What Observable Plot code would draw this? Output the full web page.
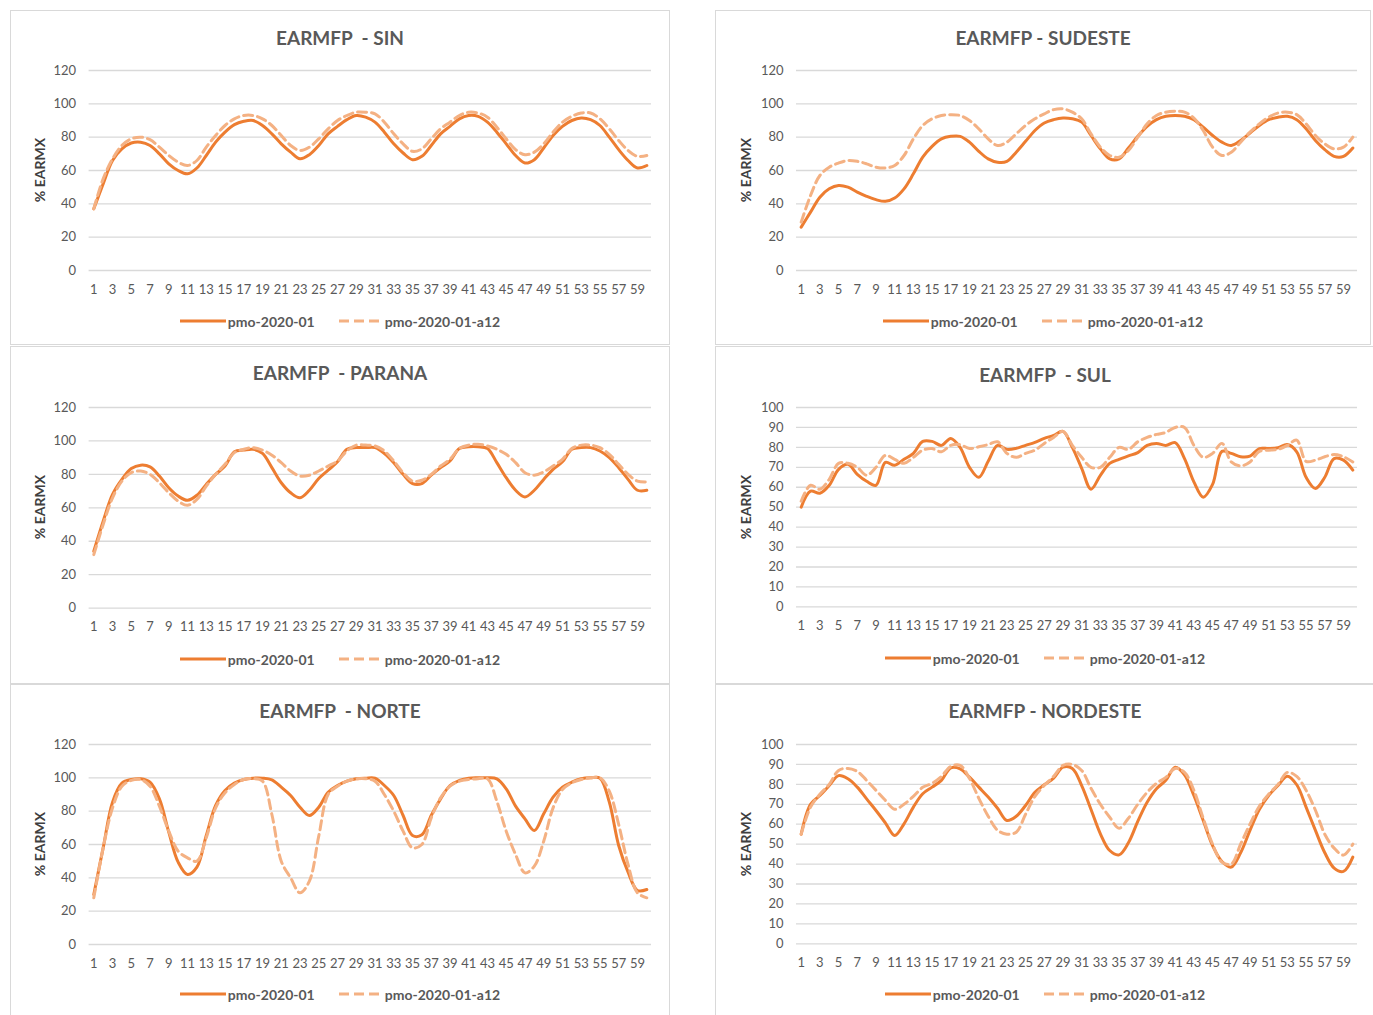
<!DOCTYPE html>
<html>
<head>
<meta charset="utf-8">
<script src="https://cdn.jsdelivr.net/npm/d3@7"></script>
<script src="https://cdn.jsdelivr.net/npm/@observablehq/plot@0.6"></script>
<style>
  html, body { margin: 0; padding: 0; background: #fff; }
  body { width: 1373px; height: 1015px; position: relative; overflow: hidden; font-family: Lato, "Open Sans", sans-serif; }
  .box { position: absolute; border: 1px solid #d9d9d9; box-sizing: border-box; }
  .title { position: absolute; text-align: center; white-space: pre; color: #595959; font-size: 19px; font-weight: 700; line-height: 24px; }
  .ylab { position: absolute; width: 120px; text-align: center; transform: rotate(-90deg); color: #404040; font-weight: 700; font-size: 14px; line-height: 16px; }
  .legend { position: absolute; display: flex; justify-content: center; align-items: center; color: #595959; font-weight: 700; font-size: 14px; height: 20px; }
  .legend .item { display: flex; align-items: center; margin: 0 12px; }
  .legend svg { margin-right: 2px; }
  .plot { position: absolute; }
</style>
</head>
<body>
<script>
// ---- categories / tick labels ----
const weeks = [1,2,3,4,5,6,7,8,9,10,11,12,13,14,15,16,17,18,19,20,21,22,23,24,25,26,27,28,29,30,
  31,32,33,34,35,36,37,38,39,40,41,42,43,44,45,46,47,48,49,50,51,52,53,54,55,56,57,58,59,60];
const xTickLabels = [1,3,5,7,9,11,13,15,17,19,21,23,25,27,29,31,33,35,37,39,41,43,45,47,49,51,53,55,57,59];
const yTicks120 = [0,20,40,60,80,100,120];
const yTicks100 = [0,10,20,30,40,50,60,70,80,90,100];
const seriesNames = ["pmo-2020-01", "pmo-2020-01-a12"];

// ---- series values (% EARMX) ----
const SIN_pmo = [37,52,66,73,76.5,77,75,70,64,60, 58,61.5,69,77,83,87.5,89.5,90,87,82,
  76,71,67,69.5,75,82,86.5,90.5,93,92, 89,83,76,70.5,66.5,68.5,75,82,86.5,91,
  93,92.5,89,83,76,69,64.5,66.5,73.5,81, 86.5,90,91.5,90.5,87,80,72.5,66,61.5,63];
const SIN_a12 = [37,55,67,75,79,80,78.5,74,69,65, 63,66,74,81,87,91,93,93,91,87,
  81,75,72,74,79,85,90,93,95,95, 94,89,82,76,71.5,73,79,85,89,93,
  95,94.5,92,86,79,72.5,69.5,71,76,83, 89,92.5,94.5,94.5,91,85,78,72,68.5,69];

const SUDESTE_pmo = [26,35,44,49,51,50,47,44.5,42.5,41.5, 43.5,49,58,68,74.5,79,80.5,80.5,77,71.5,
  67,65,65.5,71,77.5,84,88.5,90.5,91.5,91, 89,81,73,67,67,73.5,80.5,86.5,90.5,92.5,
  93,92.5,90.5,86,81,77,75,78,82.5,87, 90.5,92,92.5,90.5,85,78,72.5,68.5,68.5,73.5];
const SUDESTE_a12 = [29,45,57,62,64.5,66,65.5,64,62,61.5, 63,69,79,87,91,93,93.5,93,90,85,
  79,75,77,82,87,91,94,96.5,97,95, 91,82,74,69,68,72,80,88,93,95,
  95.5,95,91.5,84,74,69,71,77,83,88, 92,94.5,95,93.5,88,81,76,73,74,80];

const PARANA_pmo = [34,52,68,77,83.5,85.5,84.5,79,72,67, 64.5,67.5,74,80,85,93.5,94.5,95,92.5,84,
  75,69,66,70.5,77.5,82.5,87.5,95,96,96, 96,92.5,87,80,74.5,74.5,79.5,84,88,95.5,
  96.5,96.5,95.5,87,78,70.5,66.5,70.5,77,83, 87.5,95,96,96,94,90,84,77,70.5,70.5];
const PARANA_a12 = [32,50,66,76,81,82,80,75,69,64, 61.5,65,73,80,86,93,95,96,94.5,91.5,
  87,82,79,79.5,82,85,88,94,97.5,97.5, 97,94,88,81,76,76.5,80,85,89,95.5,
  97.5,98,97,95,92,87,81,79.5,81.5,85, 89,95.5,97.5,97.5,96,92,86,80,76,75.5];

const SUL_pmo = [50,58,57,61,69,71.5,66.5,63,61,72.5, 71,74,77,83,83,81,84.5,80,70,65,
  73,81,79,79.5,81,82.5,84.5,86,88,80, 69.5,59,66,72,74,75.7,77.4,81,82,81,
  82.4,74.4,62.7,55,61.4,78,77,75.3,75.6,79.4, 79.4,79.8,81.4,77.8,65,59.4,65,74.4,73.6,68.6];
const SUL_a12 = [53,61,59,64,72,72,70,66,70,76, 74,72,75,78.6,79.4,77.8,81,81.4,79.4,80.3,
  81.4,82.8,77,75,77,78.6,82,85,88,81, 75,70,70,75,80,79,82.8,85,86.5,87.5,
  90,90,81,75,77,82,72.7,70.7,72.7,78, 78.6,79,81,83.6,73,73.6,75.3,76.4,75.3,72.7];

const NORTE_pmo = [30,58,85.4,96.8,99,99.4,97.4,87.4,67.4,49.4, 42,46.4,65.4,83.4,92.4,96.8,99,99.8,99.8,98.8,
  94.4,89.4,82.4,77.4,82.4,91.4,95.4,98,99.4,99.8, 99.8,95.4,89.4,77.4,65.4,65.8,77.4,87.4,95.4,98.4,
  99.8,100,100,99.4,93.4,83,75.4,68.4,78.4,88.4, 94.4,97.4,99.4,100,99.8,85.4,59.4,43.4,32.4,33];
const NORTE_a12 = [28,58,82,95,98.5,99,95,83,68,56, 52,50,64,82,91,96,99,99.5,98,78,
  50,40,31,38,65,90,95,98,99.4,99.5, 98,90,80,68,58,60,76,88,95,98,
  99,99.5,99.5,86,68,54,43,47,62,82, 93,97,99,100,100,92,72,48,31,28];

const NORDESTE_pmo = [55,70,74.4,79.4,84.4,82.8,78.6,72.7,66.9,60.7, 54.3,60.2,68.6,75.3,78.6,82,88.3,87.8,83.6,78.6,
  73.6,68,61.9,64,69.4,76,79.8,83.1,88.6,88, 79.4,67.4,55.2,46.8,44.6,50.7,61.4,71,77.8,82,
  88.6,84.8,74.4,61.9,49.3,41.3,38.5,45.7,56.9,67.4, 74.4,79.4,84.1,79.8,68.6,56.9,45.7,38,36.3,43.5];
const NORDESTE_a12 = [55,68.6,75,80,87,88,86.5,82,77,72, 67.5,70,74,78.5,80.5,84,89,89.5,83,73,
  64,57,55,56,65,74,79.5,84,89.5,90, 87,78,70,63.5,58,63,70,76,80.5,83.5,
  88,86,77,63,50,41,40,50,60,69, 75,80,86,84,77,67,55,48,44.5,50];

// ---- layout of the six panels ----
const COLOR_SOLID = "#ED7D31";
const COLOR_DASH = "#F4B183";

const panels = [
  {title: "EARMFP  - SIN", solid: SIN_pmo, dashed: SIN_a12, yTicks: yTicks120,
   box: [10, 10, 660, 335], frameX: [88.6, 651], frameY: [70, 270], titleY: 38, legendY: 321, ylabX: 40},
  {title: "EARMFP - SUDESTE", solid: SUDESTE_pmo, dashed: SUDESTE_a12, yTicks: yTicks120,
   box: [715, 10, 656, 335], frameX: [796, 1357], frameY: [70, 270], titleY: 38, legendY: 321, ylabX: 746},
  {title: "EARMFP  - PARANA", solid: PARANA_pmo, dashed: PARANA_a12, yTicks: yTicks120,
   box: [10, 346, 660, 338], frameX: [88.6, 651], frameY: [406.7, 607.3], titleY: 373, legendY: 659, ylabX: 40},
  {title: "EARMFP  - SUL", solid: SUL_pmo, dashed: SUL_a12, yTicks: yTicks100,
   box: [715, 346, 660, 338], frameX: [796, 1357], frameY: [407.3, 606.7], titleY: 375, legendY: 658, ylabX: 746},
  {title: "EARMFP  - NORTE", solid: NORTE_pmo, dashed: NORTE_a12, yTicks: yTicks120,
   box: [10, 684, 660, 340], frameX: [88.6, 651], frameY: [744, 944], titleY: 711, legendY: 994, ylabX: 40},
  {title: "EARMFP - NORDESTE", solid: NORDESTE_pmo, dashed: NORDESTE_a12, yTicks: yTicks100,
   box: [715, 684, 660, 340], frameX: [796, 1357], frameY: [744, 943.3], titleY: 711, legendY: 994, ylabX: 746}
];

function legendSample(dashed) {
  const ns = "http://www.w3.org/2000/svg";
  const s = document.createElementNS(ns, "svg");
  s.setAttribute("width", dashed ? 44 : 46);
  s.setAttribute("height", 6);
  const l = document.createElementNS(ns, "line");
  l.setAttribute("x1", 0); l.setAttribute("x2", dashed ? 44 : 46);
  l.setAttribute("y1", 3); l.setAttribute("y2", 3);
  l.setAttribute("stroke", dashed ? COLOR_DASH : COLOR_SOLID);
  l.setAttribute("stroke-width", 3);
  if (dashed) l.setAttribute("stroke-dasharray", "10,5");
  s.appendChild(l);
  return s;
}

for (const p of panels) {
  const [bx, by, bw, bh] = p.box;
  const box = document.createElement("div");
  box.className = "box";
  Object.assign(box.style, {left: bx + "px", top: by + "px", width: bw + "px", height: bh + "px"});
  document.body.appendChild(box);

  const t = document.createElement("div");
  t.className = "title";
  t.textContent = p.title;
  Object.assign(t.style, {left: bx + "px", width: bw + "px", top: (p.titleY - 12) + "px"});
  document.body.appendChild(t);

  const mt = 15, mb = 35;
  const svgTop = p.frameY[0] - mt;
  const height = (p.frameY[1] - p.frameY[0]) + mt + mb;
  const marginLeft = p.frameX[0] - bx;
  const marginRight = (bx + bw) - p.frameX[1];
  const ymax = p.yTicks[p.yTicks.length - 1];

  const rows = (vals, s) => vals.map((v, i) => ({week: weeks[i], value: v, series: s}));
  const solidData = rows(p.solid, seriesNames[0]);
  const dashData = rows(p.dashed, seriesNames[1]);

  const chart = Plot.plot({
    width: bw,
    height: height,
    marginLeft, marginRight, marginTop: mt, marginBottom: mb,
    style: {fontFamily: "Lato, sans-serif", fontSize: "13px", color: "#595959", background: "transparent", overflow: "visible"},
    x: {domain: [0.5, 60.5], ticks: xTickLabels, tickSize: 0, tickPadding: 14, label: null, tickFormat: d => String(d)},
    y: {domain: [0, ymax], ticks: p.yTicks, tickSize: 0, tickPadding: 13, label: null},
    marks: [
      Plot.ruleY(p.yTicks, {stroke: "#d9d9d9", strokeWidth: 1.3}),
      Plot.line(solidData, {x: "week", y: "value", stroke: COLOR_SOLID, strokeWidth: 3, curve: "catmull-rom", strokeLinejoin: "round"}),
      Plot.line(dashData, {x: "week", y: "value", stroke: COLOR_DASH, strokeWidth: 3, strokeDasharray: "9,5", curve: "catmull-rom"})
    ]
  });
  chart.classList.add("plot");
  Object.assign(chart.style, {left: bx + "px", top: svgTop + "px"});
  document.body.appendChild(chart);

  const yl = document.createElement("div");
  yl.className = "ylab";
  yl.textContent = "% EARMX";
  const yMid = (p.frameY[0] + p.frameY[1]) / 2;
  Object.assign(yl.style, {left: (p.ylabX - 60) + "px", top: (yMid - 8) + "px"});
  document.body.appendChild(yl);

  const lg = document.createElement("div");
  lg.className = "legend";
  Object.assign(lg.style, {left: bx + "px", width: bw + "px", top: (p.legendY - 10) + "px"});
  seriesNames.forEach((name, i) => {
    const it = document.createElement("div");
    it.className = "item";
    it.appendChild(legendSample(i === 1));
    const sp = document.createElement("span");
    sp.textContent = name;
    it.appendChild(sp);
    lg.appendChild(it);
  });
  document.body.appendChild(lg);
}
</script>
</body>
</html>
